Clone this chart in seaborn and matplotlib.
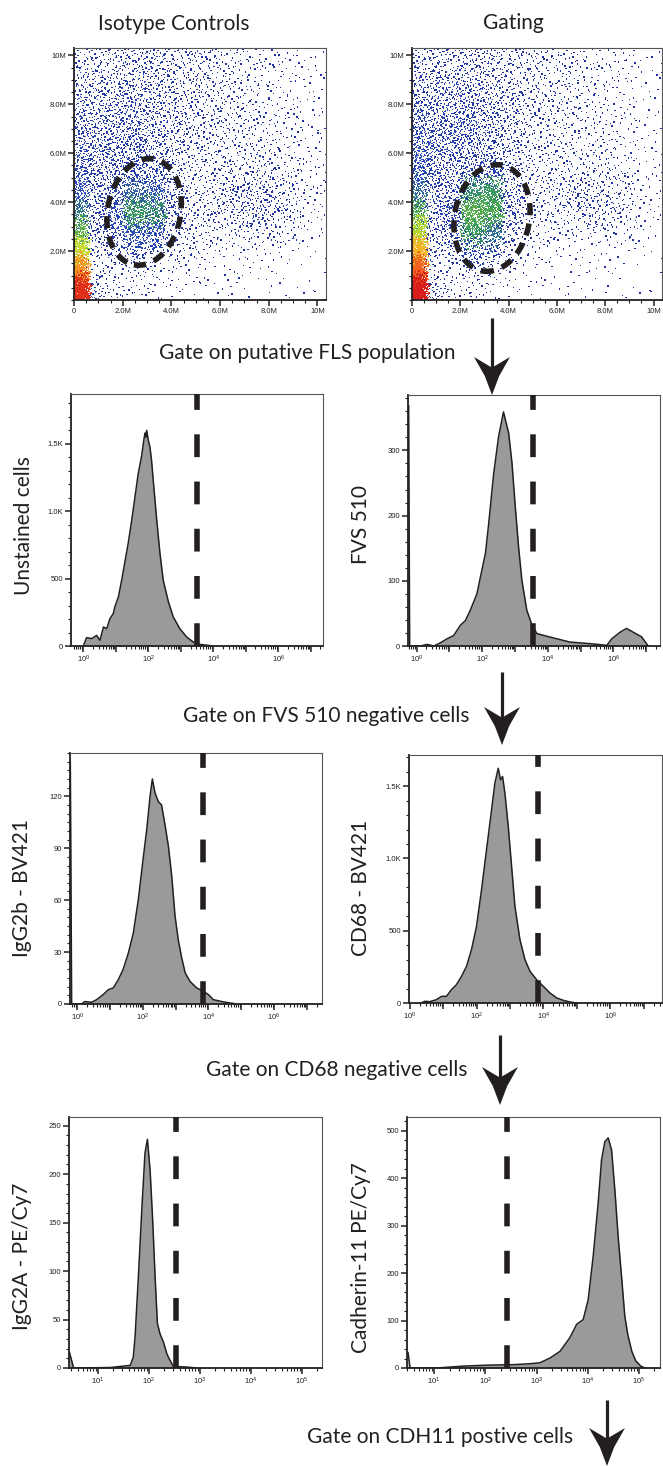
import numpy as np
import seaborn as sns
import matplotlib.pyplot as plt
from matplotlib.patches import Ellipse, Polygon
from matplotlib.colors import LinearSegmentedColormap
from matplotlib.ticker import AutoMinorLocator, LogLocator, NullFormatter

# ---------------- dot plots (values in millions) ----------------
# events per grid cell, top row first
scatter_x_edges = [0, 0.55, 1.3, 2.1, 2.9, 3.7, 4.5, 5.3, 6.1, 6.9, 7.7, 8.5, 9.3, 10.4]
scatter_y_edges = [0, 0.8, 1.6, 2.4, 3.2, 4.0, 4.8, 5.6, 6.4, 7.2, 8.0, 8.8, 9.6, 10.4]

isotype_counts = [
    [18, 27, 30, 33, 33, 30, 27, 24, 18, 15, 12, 9, 9],
    [24, 33, 39, 42, 39, 33, 27, 24, 21, 15, 12, 9, 9],
    [30, 39, 45, 48, 42, 36, 30, 24, 21, 18, 12, 9, 9],
    [36, 48, 54, 54, 48, 39, 33, 27, 21, 18, 15, 12, 9],
    [40, 52, 58, 58, 48, 39, 30, 24, 21, 18, 15, 12, 9],
    [45, 55, 58, 55, 50, 36, 27, 24, 21, 21, 18, 15, 12],
    [60, 55, 58, 70, 65, 38, 24, 24, 26, 30, 27, 18, 12],
    [80, 50, 75, 130, 120, 48, 27, 28, 36, 40, 36, 24, 15],
    [100, 48, 90, 170, 160, 50, 27, 28, 36, 42, 40, 27, 15],
    [140, 42, 70, 120, 100, 40, 21, 18, 21, 24, 21, 15, 9],
    [200, 30, 42, 55, 42, 24, 15, 12, 9, 9, 7, 6, 5],
    [300, 18, 15, 18, 15, 12, 7, 6, 5, 5, 4, 3, 3],
    [380, 40, 18, 12, 9, 7, 6, 5, 4, 3, 3, 3, 3],
]
gating_counts = [
    [21, 30, 33, 36, 33, 27, 24, 18, 15, 12, 11, 9, 7],
    [27, 36, 42, 42, 36, 30, 24, 21, 18, 15, 12, 9, 7],
    [36, 48, 54, 51, 42, 33, 27, 21, 18, 15, 12, 9, 7],
    [48, 60, 66, 60, 51, 36, 27, 21, 18, 15, 12, 11, 7],
    [55, 66, 70, 63, 51, 36, 24, 21, 18, 15, 13, 11, 7],
    [60, 66, 60, 50, 48, 33, 24, 21, 18, 18, 15, 12, 9],
    [75, 60, 50, 70, 80, 38, 24, 21, 21, 24, 21, 15, 9],
    [95, 55, 60, 160, 170, 50, 27, 24, 30, 33, 30, 21, 12],
    [130, 50, 80, 200, 190, 50, 24, 24, 30, 33, 30, 21, 12],
    [190, 42, 70, 170, 140, 38, 18, 15, 15, 18, 15, 12, 7],
    [270, 30, 42, 80, 55, 21, 12, 9, 7, 7, 6, 5, 4],
    [340, 18, 15, 25, 18, 11, 6, 5, 4, 4, 3, 3, 3],
    [420, 40, 18, 12, 9, 7, 5, 4, 3, 3, 3, 3, 3],
]
# gate ellipse: centre x, centre y, width, height, tilt (deg)
isotype_gate = [2.88, 3.6, 3.0, 4.4, -11]
gating_gate = [3.31, 3.35, 3.1, 4.4, -11]

scatter_ticks = [0, 2, 4, 6, 8, 10]
scatter_ticklabels = ['0', '2.0M', '4.0M', '6.0M', '8.0M', '10M']

# ---------------- histograms (x in decades, y = count) ----------------
unstained_log = [0.0, 0.1, 0.26, 0.41, 0.51, 0.62, 0.72, 0.82, 0.92, 0.97, 1.08, 1.18, 1.28, 1.38,
                 1.49, 1.59, 1.69, 1.79, 1.87, 1.90, 1.92, 1.95, 2.0, 2.05, 2.1, 2.17, 2.26, 2.36,
                 2.46, 2.62, 2.77, 2.97, 3.18, 3.38, 3.59, 4.0]
unstained_counts = [0, 62, 55, 79, 42, 141, 129, 203, 240, 290, 364, 488, 624, 760,
                    933, 1106, 1280, 1403, 1540, 1580, 1550, 1600, 1527, 1478, 1379, 1181, 933, 686,
                    488, 327, 215, 129, 67, 30, 12, 0]

fvs_log = [-0.24, -0.21, 0.12, 0.32, 0.53, 0.73, 0.93, 1.13, 1.34, 1.49, 1.64, 1.84, 1.99, 2.10,
           2.20, 2.35, 2.50, 2.65, 2.81, 2.91, 3.01, 3.11, 3.21, 3.36, 3.52, 3.67, 3.97, 4.28,
           4.68, 5.29, 5.80, 5.95, 6.20, 6.40, 6.61, 6.86, 7.06]
fvs_counts = [369, 0, 0, 2.5, 0, 5, 11, 16, 32, 39, 55, 80, 116, 142,
              188, 264, 321, 359, 326, 280, 213, 152, 101, 55, 32, 19, 15, 11,
              6, 3.6, 1, 11, 21, 27, 21, 14, 0]

igg2b_log = [-0.21, -0.17, 0.13, 0.23, 0.44, 0.59, 0.79, 0.95, 1.10, 1.25, 1.40, 1.56, 1.71, 1.86,
             2.01, 2.12, 2.22, 2.29, 2.37, 2.47, 2.57, 2.68, 2.78, 2.88, 2.98, 3.08, 3.18, 3.29,
             3.44, 3.64, 3.85, 4.0, 4.15, 4.46, 4.86]
igg2b_counts = [140, 0, 0, 1.4, 1, 2.5, 5.4, 8.3, 9.3, 14, 20, 29.5, 41, 60,
                84, 101, 120, 130, 122, 117, 115, 103, 91, 74, 51, 37, 27, 18,
                13, 9.3, 7.3, 5.4, 2.5, 1.2, 0]

cd68_log = [0.35, 0.45, 0.6, 0.8, 0.95, 1.1, 1.25, 1.40, 1.55, 1.70, 1.85, 2.0, 2.15, 2.30, 2.45,
            2.55, 2.65, 2.72, 2.78, 2.85, 2.95, 3.05, 3.15, 3.30, 3.45, 3.60, 3.80, 4.0, 4.2,
            4.4, 4.6, 4.8, 5.0]
cd68_counts = [0, 12, 9, 23, 46, 46, 92, 127, 184, 253, 369, 530, 783, 1060, 1336,
               1521, 1624, 1544, 1567, 1451, 1221, 945, 668, 438, 300, 219, 161, 115, 69,
               35, 18, 7, 0]

igg2a_log = [0.44, 0.52, 1.24, 1.63, 1.69, 1.725, 1.79, 1.857, 1.92, 1.967, 2.02, 2.07, 2.118,
             2.163, 2.216, 2.28, 2.347, 2.38, 2.476, 2.74, 2.935]
igg2a_counts = [16, 0, 0.5, 2.7, 11, 32, 94, 163, 222, 236, 204, 153, 94,
                46, 35, 27, 15, 11, 1.6, 1, 0]

cdh11_log = [0.49, 0.53, 1.117, 1.571, 2.027, 2.546, 2.871, 3.066, 3.261, 3.456, 3.651, 3.782,
             3.910, 4.008, 4.105, 4.203, 4.269, 4.333, 4.398, 4.464, 4.528, 4.593, 4.659, 4.723,
             4.782, 4.860, 4.938, 5.035, 5.113]
cdh11_counts = [33, 0, 0.5, 4, 6, 7, 9, 11, 21, 35, 64, 92,
                102, 144, 235, 348, 439, 477, 485, 460, 376, 277, 193, 109,
                70, 35, 15, 4, 0]

hist_gates = [3.51, 3.54, 3.82, 3.85, 2.52, 2.417]
hist_xlims = [(-0.38, 7.38), (-0.26, 7.42), (-0.22, 7.46), (-0.02, 7.55), (0.43, 5.39), (0.47, 5.41)]
hist_ymax = [1870, 385, 145, 1716, 259, 529]
hist_yticks = [[0, 500, 1000, 1500], [0, 100, 200, 300], [0, 30, 60, 90, 120],
               [0, 500, 1000, 1500], [0, 50, 100, 150, 200, 250], [0, 100, 200, 300, 400, 500]]
hist_yticklabels = [['0', '500', '1.0K', '1.5K'], ['0', '100', '200', '300'],
                    ['0', '30', '60', '90', '120'], ['0', '500', '1.0K', '1.5K'],
                    ['0', '50', '100', '150', '200', '250'], ['0', '100', '200', '300', '400', '500']]
hist_yminor = [5, 5, 6, 5, 5, 5]
hist_labels = ['Unstained cells', 'FVS 510', 'IgG2b - BV421', 'CD68 - BV421',
               'IgG2A - PE/Cy7', 'Cadherin-11 PE/Cy7']
top_decades = [0, 1, 2, 3, 4, 5, 6, 7]
top_decade_labels = ['$\\mathregular{10^{0}}$', '', '$\\mathregular{10^{2}}$', '',
                     '$\\mathregular{10^{4}}$', '', '$\\mathregular{10^{6}}$', '']
bottom_decades = [1, 2, 3, 4, 5]
bottom_decade_labels = ['$\\mathregular{10^{%d}}$' % d for d in bottom_decades]

titles = ['Isotype Controls', 'Gating']
gate_steps = ['Gate on putative FLS population', 'Gate on FVS 510 negative cells',
              'Gate on CD68 negative cells', 'Gate on CDH11 postive cells']

# ---------------- styling ----------------
W, H = 663, 1466
INK = '#231f20'
FILL = '#9a9a9a'
BIG = 15
XMAX, YMAX = 10.35, 10.3

sns.set_style('ticks')
plt.rcParams['font.family'] = ['Liberation Sans', 'DejaVu Sans']
plt.rcParams['mathtext.fontset'] = 'custom'
plt.rcParams['mathtext.rm'] = 'Liberation Sans'

flow_cmap = LinearSegmentedColormap.from_list('flowjo', [
    (0.0, '#1e2d99'), (0.2, '#2a4cbc'), (0.3, '#3a9c5a'), (0.4, '#7cc83a'),
    (0.55, '#e6e22a'), (0.72, '#f5a623'), (0.88, '#f0561e'), (1.0, '#d81e1a')])


def px_rect(x0, y0, x1, y1):
    return [x0 / W, 1 - y1 / H, (x1 - x0) / W, (y1 - y0) / H]


def radical_inverse(n, base):
    n = n.copy()
    out = np.zeros(len(n))
    f = 1.0 / base
    while np.any(n > 0):
        out += f * (n % base)
        n //= base
        f /= base
    return out


def grid_events(counts):
    # dither the per-cell event density with a Halton sequence (deterministic, blue-noise look)
    dens = np.array(counts, dtype=float)[::-1]
    xe = np.array(scatter_x_edges)
    ye = np.array(scatter_y_edges)
    dens = dens / np.outer(np.diff(ye), np.diff(xe))
    dmax = dens.max()
    n = int(dmax * XMAX * YMAX)
    idx = np.arange(1, n + 1)
    x = radical_inverse(idx, 2) * XMAX
    y = radical_inverse(idx, 3) * YMAX
    t = radical_inverse(idx, 5)
    jx = (radical_inverse(idx, 7) - 0.5) * 0.4
    jy = (radical_inverse(idx, 11) - 0.5) * 0.8
    c = np.clip(np.searchsorted(xe, np.clip(x + jx, 0, XMAX), side='right') - 1, 0, len(xe) - 2)
    r = np.clip(np.searchsorted(ye, np.clip(y + jy, 0, YMAX), side='right') - 1, 0, len(ye) - 2)
    d = dens[r, c]
    keep = t < d / dmax
    return x[keep], y[keep], d[keep]


def style_box(ax):
    for side in ['left', 'bottom']:
        ax.spines[side].set_color(INK)
        ax.spines[side].set_linewidth(1.3)
    for side in ['top', 'right']:
        ax.spines[side].set_visible(True)
        ax.spines[side].set_color('#555555')
        ax.spines[side].set_linewidth(0.8)
    ax.tick_params(which='major', length=4, width=1.1, color=INK, labelsize=5.5,
                   labelcolor=INK, pad=1.5, direction='out')
    ax.tick_params(which='minor', length=2.2, width=0.8, color=INK, direction='out')
    ax.set_xlabel('')
    ax.set_ylabel('')
    ax.set_facecolor('none')


def draw_scatter(ax, counts, gate):
    x, y, d = grid_events(counts)
    order = np.argsort(d, kind='stable')
    sns.scatterplot(x=x[order], y=y[order], hue=d[order], palette=flow_cmap, hue_norm=(0, 900),
                    s=1.0, marker='s', linewidth=0, legend=False, ax=ax)
    cx, cy, w, h, ang = gate
    ax.add_patch(Ellipse((cx, cy), w, h, angle=ang, fill=False, ec=INK, lw=4,
                         ls=(0, (2.2, 1.5)), zorder=5))
    ax.set_xlim(0, XMAX)
    ax.set_ylim(0, YMAX)
    ax.set_xticks(scatter_ticks, scatter_ticklabels)
    ax.set_yticks(scatter_ticks[1:], scatter_ticklabels[1:])
    ax.xaxis.set_minor_locator(AutoMinorLocator(4))
    ax.yaxis.set_minor_locator(AutoMinorLocator(4))
    style_box(ax)


def draw_hist(ax, i, logs, counts, bottom_row):
    ax.set_xscale('log')
    x = 10.0 ** np.array(logs)
    y = np.array(counts, dtype=float)
    ax.fill_between(x, y, 0, color=FILL, lw=0, zorder=2)
    sns.lineplot(x=x, y=y, ax=ax, color=INK, lw=1.1, sort=False, estimator=None, zorder=3)
    ax.axvline(10.0 ** hist_gates[i], color=INK, lw=4, dashes=(4.1, 4.4), zorder=4)
    lo, hi = hist_xlims[i]
    ax.set_xlim(10.0 ** lo, 10.0 ** hi)
    ax.set_ylim(0, hist_ymax[i])
    decs, labs = (bottom_decades, bottom_decade_labels) if bottom_row else (top_decades, top_decade_labels)
    keep = [(10.0 ** d, l) for d, l in zip(decs, labs) if lo <= d <= hi]
    ax.set_xticks([k[0] for k in keep], [k[1] for k in keep])
    ax.xaxis.set_minor_locator(LogLocator(base=10, subs=np.arange(2, 10), numticks=100))
    ax.xaxis.set_minor_formatter(NullFormatter())
    ax.set_yticks(hist_yticks[i], hist_yticklabels[i])
    ax.yaxis.set_minor_locator(AutoMinorLocator(hist_yminor[i]))
    style_box(ax)


fig = plt.figure(figsize=(W / 100, H / 100), dpi=100)

ax_iso = fig.add_axes(px_rect(74, 48, 326, 300))
draw_scatter(ax_iso, isotype_counts, isotype_gate)
ax_gat = fig.add_axes(px_rect(412, 48, 662, 300))
draw_scatter(ax_gat, gating_counts, gating_gate)

hist_rects = [(71, 394, 323, 646), (408, 395, 660, 646),
              (70, 753, 322, 1004), (409, 755, 662, 1003),
              (69, 1117, 322, 1368), (407, 1117, 660, 1368)]
hist_series = [(unstained_log, unstained_counts), (fvs_log, fvs_counts),
               (igg2b_log, igg2b_counts), (cd68_log, cd68_counts),
               (igg2a_log, igg2a_counts), (cdh11_log, cdh11_counts)]
for i, (rect, (lg, ct)) in enumerate(zip(hist_rects, hist_series)):
    ax = fig.add_axes(px_rect(*rect))
    draw_hist(ax, i, lg, ct, bottom_row=i >= 4)

# overlay in pixel coordinates for titles, labels and gating arrows
ov = fig.add_axes([0, 0, 1, 1], zorder=10)
ov.set_xlim(0, W)
ov.set_ylim(H, 0)
ov.axis('off')
ov.patch.set_alpha(0)

txt = dict(family=['Lato', 'DejaVu Sans'], fontsize=BIG, color=INK, ha='center', va='center')
ov.text(174, 24, titles[0], **txt)
ov.text(513, 23, titles[1], **txt)

label_pos = [(24, 526), (361, 524), (22, 888), (361, 888), (22, 1256), (361, 1258)]
for (lx, ly), lab in zip(label_pos, hist_labels):
    ov.text(lx, ly, lab, rotation=90, **txt)

step_pos = [(307, 353), (326, 716), (337, 1070), (440, 1437)]
for (tx, ty), s in zip(step_pos, gate_steps):
    ov.text(tx, ty, s, **txt)


def arrow_down(x, y0, y1, w=36, h=38):
    ov.plot([x, x], [y0, y1 - h * 0.6], color=INK, lw=2.3, solid_capstyle='butt')
    pts = [(x, y1), (x - w * 0.2, y1 - h * 0.5), (x - w / 2, y1 - h), (x, y1 - h * 0.72),
           (x + w / 2, y1 - h), (x + w * 0.2, y1 - h * 0.5)]
    ov.add_patch(Polygon(pts, closed=True, fc=INK, ec='none'))


arrow_down(492, 318, 395)
arrow_down(502, 672, 745)
arrow_down(500, 1035, 1105)
arrow_down(607, 1400, 1466)

fig.savefig('out.png', dpi=100)
